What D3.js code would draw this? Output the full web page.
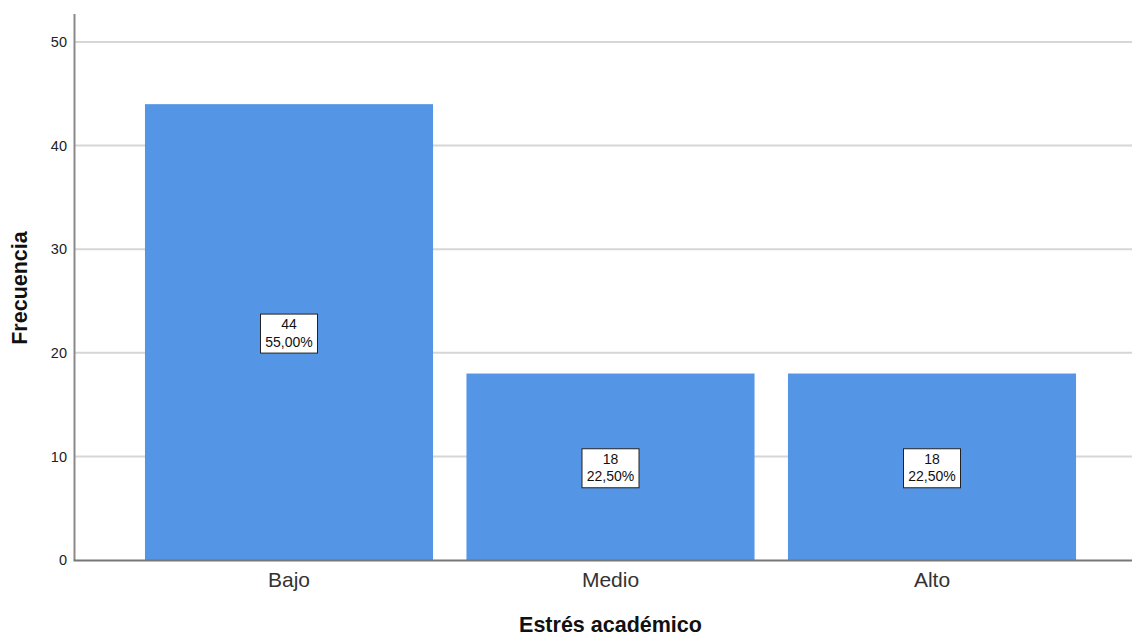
<!DOCTYPE html>
<html>
<head>
<meta charset="utf-8">
<script src="https://cdn.jsdelivr.net/npm/d3@7"></script>
<style>
  body { margin: 0; background: #fff; }
  svg { display: block; font-family: Arial, "Liberation Sans", sans-serif; }
</style>
</head>
<body>
<svg id="chart" width="1132" height="637"></svg>
<script>
// Chart data
const categories = ['Bajo', 'Medio', 'Alto'];
const counts = [44, 18, 18];
const percents = ['55,00%', '22,50%', '22,50%'];
const yTicks = [0, 10, 20, 30, 40, 50];

const svg = d3.select('#chart');

const plot = { left: 75, right: 1132, top: 14, bottom: 560 };

const x = d3.scaleBand()
  .domain(categories)
  .range([128.25, 1092.75])
  .paddingInner(0.104)
  .paddingOuter(0.052);

const y = d3.scaleLinear()
  .domain([0, 50])
  .range([plot.bottom, 42]);

// Gridlines behind the bars
svg.append('g')
  .attr('class', 'grid')
  .selectAll('line')
  .data(yTicks.filter(d => d > 0))
  .join('line')
  .attr('x1', plot.left)
  .attr('x2', plot.right)
  .attr('y1', d => y(d))
  .attr('y2', d => y(d))
  .attr('stroke', '#d6d6d6')
  .attr('stroke-width', 2);

// Bars
svg.append('g')
  .selectAll('rect')
  .data(categories)
  .join('rect')
  .attr('x', d => x(d))
  .attr('y', (d, i) => y(counts[i]))
  .attr('width', x.bandwidth())
  .attr('height', (d, i) => y(0) - y(counts[i]))
  .attr('fill', '#5595e5');

// Axis lines
svg.append('line')
  .attr('x1', plot.left - 0.5)
  .attr('x2', plot.left - 0.5)
  .attr('y1', plot.top)
  .attr('y2', plot.bottom)
  .attr('stroke', '#8a8a8a')
  .attr('stroke-width', 2);

svg.append('line')
  .attr('x1', plot.left - 1.5)
  .attr('x2', plot.right)
  .attr('y1', plot.bottom + 0.5)
  .attr('y2', plot.bottom + 0.5)
  .attr('stroke', '#777')
  .attr('stroke-width', 2);

// Y tick labels
svg.append('g')
  .selectAll('text')
  .data(yTicks)
  .join('text')
  .attr('x', 67)
  .attr('y', d => y(d))
  .attr('dy', '0.36em')
  .attr('text-anchor', 'end')
  .attr('font-size', 14.5)
  .attr('fill', '#222')
  .text(d => d);

// Category labels
svg.append('g')
  .selectAll('text')
  .data(categories)
  .join('text')
  .attr('x', d => x(d) + x.bandwidth() / 2)
  .attr('y', 587)
  .attr('text-anchor', 'middle')
  .attr('font-size', 21)
  .attr('fill', '#333')
  .text(d => d);

// Axis titles
svg.append('text')
  .attr('x', (x.range()[0] + x.range()[1]) / 2)
  .attr('y', 632)
  .attr('text-anchor', 'middle')
  .attr('font-size', 21.5)
  .attr('font-weight', 'bold')
  .attr('fill', '#111')
  .text('Estrés académico');

svg.append('text')
  .attr('transform', `translate(27, ${(plot.top + plot.bottom) / 2 + 1}) rotate(-90)`)
  .attr('text-anchor', 'middle')
  .attr('font-size', 21.5)
  .attr('font-weight', 'bold')
  .attr('fill', '#111')
  .text('Frecuencia');

// Value boxes in the middle of each bar
const labels = svg.append('g')
  .selectAll('g')
  .data(categories)
  .join('g')
  .attr('transform', (d, i) => `translate(${x(d) + x.bandwidth() / 2}, ${y(counts[i] / 2)})`);

labels.append('rect')
  .attr('x', -28.5)
  .attr('y', -18)
  .attr('width', 57)
  .attr('height', 39)
  .attr('fill', '#fff')
  .attr('stroke', '#222')
  .attr('stroke-width', 1);

labels.append('text')
  .attr('y', -3)
  .attr('text-anchor', 'middle')
  .attr('font-size', 14)
  .attr('fill', '#111')
  .text((d, i) => counts[i]);

labels.append('text')
  .attr('y', 14.5)
  .attr('text-anchor', 'middle')
  .attr('font-size', 14)
  .attr('fill', '#111')
  .text((d, i) => percents[i]);
</script>
</body>
</html>
